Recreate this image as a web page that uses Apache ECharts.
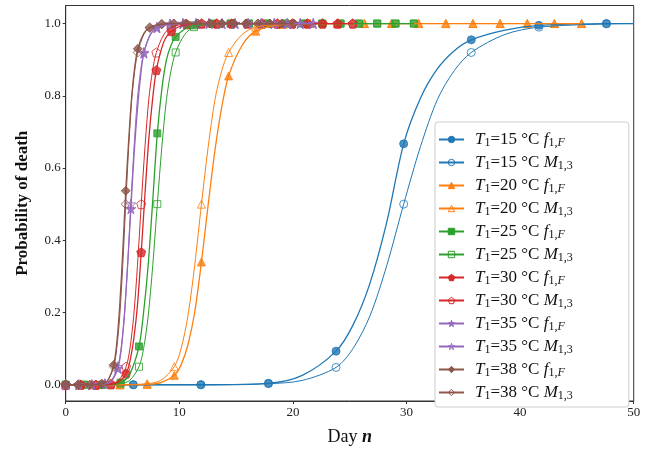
<!DOCTYPE html>
<html><head><meta charset="utf-8">
<script src="https://cdn.jsdelivr.net/npm/echarts@6/dist/echarts.min.js"></script>
<style>html,body{margin:0;padding:0;background:#fff}#c{width:650px;height:451px}</style>
</head><body><div id="c"></div>
<script>
// ---------------- data ----------------
const xTicks = [0, 10, 20, 30, 40, 50];
const yTicks = [0, 0.2, 0.4, 0.6, 0.8, 1.0];

// marker positions (days) and values
const days15 = [0, 5.95, 11.9, 17.85, 23.8, 29.75, 35.7, 41.65, 47.6];
const f15 = [0, 0, 0, 0.004, 0.093, 0.667, 0.955, 0.995, 1.0];
const m15 = [0, 0, 0, 0.003, 0.048, 0.5, 0.92, 0.99, 0.999];

const days20 = [0, 2.39, 4.78, 7.17, 9.56, 11.95, 14.34, 16.73, 19.12, 21.51, 23.9, 26.29, 28.68, 31.07, 33.46, 35.85, 38.24, 40.63, 43.02, 45.41];
const f20 = [0, 0, 0, 0.001, 0.026, 0.34, 0.855, 0.979, 0.998, 1, 1, 1, 1, 1, 1, 1, 1, 1, 1, 1];
const m20 = [0, 0, 0, 0.003, 0.05, 0.5, 0.92, 0.99, 0.999, 1, 1, 1, 1, 1, 1, 1, 1, 1, 1, 1];

const days25 = [0, 1.613, 3.226, 4.839, 6.452, 8.065, 9.678, 11.291, 12.904, 14.517, 16.13, 17.743, 19.356, 20.969, 22.582, 24.195, 25.808, 27.421, 29.034, 30.647];
const f25 = [0, 0, 0, 0.006, 0.106, 0.696, 0.963, 0.995, 1, 1, 1, 1, 1, 1, 1, 1, 1, 1, 1, 1];
const m25 = [0, 0, 0, 0.003, 0.05, 0.5, 0.92, 0.99, 0.999, 1, 1, 1, 1, 1, 1, 1, 1, 1, 1, 1];

const days30 = [0, 1.33, 2.66, 3.99, 5.32, 6.65, 7.98, 9.31, 10.64, 11.97, 13.3, 14.63, 15.96, 17.29, 18.62, 19.95, 21.28, 22.61, 23.94, 25.27];
const f30 = [0, 0, 0, 0.001, 0.031, 0.367, 0.871, 0.979, 0.998, 1, 1, 1, 1, 1, 1, 1, 1, 1, 1, 1];
const m30 = [0, 0, 0, 0.003, 0.05, 0.5, 0.92, 0.99, 0.999, 1, 1, 1, 1, 1, 1, 1, 1, 1, 1, 1];

const days35 = [0, 1.147, 2.294, 3.441, 4.588, 5.735, 6.882, 8.029, 9.176, 10.323, 11.47, 12.617, 13.764, 14.911, 16.058, 17.205, 18.352, 19.499, 20.646, 21.793];
const f35 = [0, 0, 0, 0.002, 0.045, 0.487, 0.918, 0.988, 0.998, 1, 1, 1, 1, 1, 1, 1, 1, 1, 1, 1];
const m35 = [0, 0, 0, 0.003, 0.05, 0.5, 0.92, 0.99, 0.999, 1, 1, 1, 1, 1, 1, 1, 1, 1, 1, 1];

const days38 = [0, 1.057, 2.114, 3.171, 4.228, 5.285, 6.342, 7.399, 8.456, 9.513, 10.57, 11.627, 12.684, 13.741, 14.798, 15.855, 16.912, 17.969, 19.026, 20.083];
const f38 = [0, 0, 0, 0.002, 0.055, 0.537, 0.93, 0.988, 0.998, 1, 1, 1, 1, 1, 1, 1, 1, 1, 1, 1];
const m38 = [0, 0, 0, 0.003, 0.05, 0.5, 0.92, 0.99, 0.999, 1, 1, 1, 1, 1, 1, 1, 1, 1, 1, 1];

// fitted curves, points
const cDays15 = [0, 11.9, 17.85, 20.825, 23.8, 25.2875, 26.775, 28.2625, 29.75, 31.2375, 32.725, 34.2125, 35.7, 38.675, 41.65, 47.6, 50];
const cF15 = [0, 0, 0.004, 0.026, 0.093, 0.165, 0.28, 0.45, 0.667, 0.794, 0.875, 0.925, 0.955, 0.982, 0.995, 1.0, 1.0];
const cM15 = [0, 0, 0.003, 0.012, 0.048, 0.1, 0.19, 0.33, 0.5, 0.66, 0.79, 0.87, 0.92, 0.97, 0.99, 0.999, 1.0];

const cDays20 = [0, 4.78, 7.17, 8.365, 9.56, 10.1575, 10.755, 11.3525, 11.95, 12.5475, 13.145, 13.7425, 14.34, 15.535, 16.73, 19.12, 21.51, 45.41];
const cF20 = [0, 0, 0.001, 0.006, 0.026, 0.055, 0.11, 0.2, 0.34, 0.5, 0.65, 0.77, 0.855, 0.94, 0.979, 0.998, 1, 1];
const cM20 = [0, 0, 0.003, 0.012, 0.05, 0.1, 0.19, 0.33, 0.5, 0.66, 0.79, 0.87, 0.92, 0.97, 0.99, 0.999, 1, 1];

const cDays25 = [0, 3.226, 4.839, 5.6455, 6.452, 6.855, 7.2585, 7.662, 8.065, 8.468, 8.8715, 9.275, 9.678, 10.4845, 11.291, 12.904, 14.517, 30.647];
const cF25 = [0, 0, 0.006, 0.03, 0.106, 0.2, 0.33, 0.51, 0.696, 0.82, 0.9, 0.94, 0.963, 0.985, 0.995, 1, 1, 1];
const cM25 = [0, 0, 0.003, 0.012, 0.05, 0.1, 0.19, 0.33, 0.5, 0.66, 0.79, 0.87, 0.92, 0.97, 0.99, 0.999, 1, 1];

const cDays30 = [0, 2.66, 3.99, 4.655, 5.32, 5.6525, 5.985, 6.3175, 6.65, 6.9825, 7.315, 7.6475, 7.98, 8.645, 9.31, 10.64, 11.97, 25.27];
const cF30 = [0, 0, 0.001, 0.008, 0.031, 0.065, 0.125, 0.22, 0.367, 0.53, 0.68, 0.79, 0.871, 0.95, 0.979, 0.998, 1, 1];
const cM30 = [0, 0, 0.003, 0.012, 0.05, 0.1, 0.19, 0.33, 0.5, 0.66, 0.79, 0.87, 0.92, 0.97, 0.99, 0.999, 1, 1];

const cDays35 = [0, 2.294, 3.441, 4.0145, 4.588, 4.875, 5.1615, 5.448, 5.735, 6.022, 6.3085, 6.595, 6.882, 7.4555, 8.029, 9.176, 10.323, 21.793];
const cF35 = [0, 0, 0.002, 0.01, 0.045, 0.095, 0.19, 0.33, 0.487, 0.64, 0.76, 0.855, 0.918, 0.97, 0.988, 0.998, 1, 1];
const cM35 = [0, 0, 0.003, 0.012, 0.05, 0.1, 0.19, 0.33, 0.5, 0.66, 0.79, 0.87, 0.92, 0.97, 0.99, 0.999, 1, 1];

const cDays38 = [0, 2.114, 3.171, 3.6995, 4.228, 4.492, 4.7565, 5.021, 5.285, 5.549, 5.8135, 6.078, 6.342, 6.871, 7.399, 8.456, 9.513, 20.083];
const cF38 = [0, 0, 0.002, 0.012, 0.055, 0.115, 0.22, 0.37, 0.537, 0.68, 0.8, 0.88, 0.93, 0.972, 0.988, 0.998, 1, 1];
const cM38 = [0, 0, 0.003, 0.012, 0.05, 0.1, 0.19, 0.33, 0.5, 0.66, 0.79, 0.87, 0.92, 0.97, 0.99, 0.999, 1, 1];

const temps = [15, 20, 25, 30, 35, 38];
const colors = ['#1f77b4', '#ff7f0e', '#2ca02c', '#d62728', '#9467bd', '#8c564b'];

// ---------------- build ----------------
const PENT = 'path://M50,0 L97.6,34.5 L79.4,90.5 L20.6,90.5 L2.4,34.5 Z';
const STAR = 'path://M50,0 L61.2,34.5 L97.6,34.5 L68.2,55.9 L79.4,90.5 L50,69.1 L20.6,90.5 L31.8,55.9 L2.4,34.5 L38.8,34.5 Z';
const shapes = [
  {sym: 'circle', size: 8}, {sym: 'triangle', size: 8}, {sym: 'rect', size: 7},
  {sym: PENT, size: 9}, {sym: STAR, size: 10}, {sym: 'diamond', size: 9}
];
const groups = [
  [days15, f15, m15, cDays15, cF15, cM15],
  [days20, f20, m20, cDays20, cF20, cM20],
  [days25, f25, m25, cDays25, cF25, cM25],
  [days30, f30, m30, cDays30, cF30, cM30],
  [days35, f35, m35, cDays35, cF35, cM35],
  [days38, f38, m38, cDays38, cF38, cM38]
];
const zip = (a, b) => a.map((v, i) => [v, b[i]]);

const series = [];
const legendNames = [];
const legendText = {};
const SERIF = 'Liberation Serif';

groups.forEach((g, k) => {
  const [md, mf, mm, cd, cf, cm] = g;
  const col = colors[k];
  const sh = shapes[k];
  [['f', mf, cf, false], ['M', mm, cm, true]].forEach(([kind, mv, cv, hollow]) => {
    const name = 'T' + temps[k] + kind;
    legendNames.push(name);
    legendText[name] = '{it0|T}{sub|1}{rm|=' + temps[k] + ' °C }' +
      (kind === 'f' ? '{it|f}{sub|1,}{subit|F}' : '{it|M}{sub|1,3}');
    const iStyle = {
      color: hollow ? 'rgba(255,255,255,0)' : col,
      borderColor: col,
      borderWidth: 1
    };
    series.push({
      type: 'line', name: name, data: zip(cd, cv),
      showSymbol: false, symbol: sh.sym, symbolSize: sh.size,
      smooth: 0.3,
      lineStyle: {color: col, width: hollow ? 1.0 : 1.3},
      itemStyle: iStyle, silent: true
    });
    series.push({
      type: 'scatter', name: name + '_pts', data: zip(md, mv),
      symbol: sh.sym, symbolSize: sh.size, itemStyle: iStyle, silent: true
    });
  });
});

const FS = 17;
const subStyle = {fontFamily: SERIF, fontSize: 12, padding: [7, 0, 0, 0], color: '#111'};
const option = {
  animation: false,
  backgroundColor: '#fff',
  grid: {left: 65.7, right: 16.3, top: 5.5, bottom: 41, show: true, borderColor: '#333', borderWidth: 1, containLabel: false},
  xAxis: {
    type: 'value', min: 0, max: 50, interval: 10,
    axisLine: {show: true, onZero: false, lineStyle: {color: '#333'}},
    axisTick: {show: true, length: 3, lineStyle: {color: '#333'}},
    axisLabel: {fontFamily: SERIF, fontSize: 13, color: '#222', margin: 5},
    splitLine: {show: false},
    name: '{a|Day }{b|n}', nameLocation: 'middle', nameGap: 27,
    nameTextStyle: {rich: {
      a: {fontFamily: SERIF, fontSize: 18, color: '#111'},
      b: {fontFamily: SERIF, fontSize: 18, fontStyle: 'italic', fontWeight: 'bold', color: '#111'}
    }}
  },
  yAxis: {
    type: 'value', min: -0.045, max: 1.05,
    axisLine: {show: true, lineStyle: {color: '#333'}},
    axisTick: {show: true, length: 3, customValues: yTicks, lineStyle: {color: '#333'}},
    axisLabel: {customValues: yTicks, formatter: v => v.toFixed(1), fontFamily: SERIF, fontSize: 13, color: '#222', margin: 5},
    splitLine: {show: false},
    name: 'Probability of death', nameLocation: 'middle', nameGap: 35,
    nameTextStyle: {fontFamily: SERIF, fontSize: 17, fontWeight: 'bold', color: '#111'}
  },
  legend: {
    data: legendNames, orient: 'vertical', left: 435, top: 122,
    backgroundColor: '#fff', borderColor: '#ccc', borderWidth: 1, borderRadius: 3,
    padding: [9, 56, 5, 3], itemGap: 5, itemWidth: 25, itemHeight: 8,
    itemStyle: {borderWidth: 1},
    selectedMode: false,
    formatter: n => legendText[n],
    textStyle: {fontFamily: SERIF, fontSize: FS, color: '#111', rich: {
      it0: {fontFamily: SERIF, fontSize: FS, fontStyle: 'italic', color: '#111', padding: [0, 0, 0, 6]},
      it: {fontFamily: SERIF, fontSize: FS, fontStyle: 'italic', color: '#111'},
      rm: {fontFamily: SERIF, fontSize: FS, color: '#111'},
      sub: subStyle,
      subit: Object.assign({}, subStyle, {fontStyle: 'italic'})
    }},
    z: 10
  },
  series: series
};
const chart = echarts.init(document.getElementById('c'));
chart.setOption(option);
</script></body></html>
